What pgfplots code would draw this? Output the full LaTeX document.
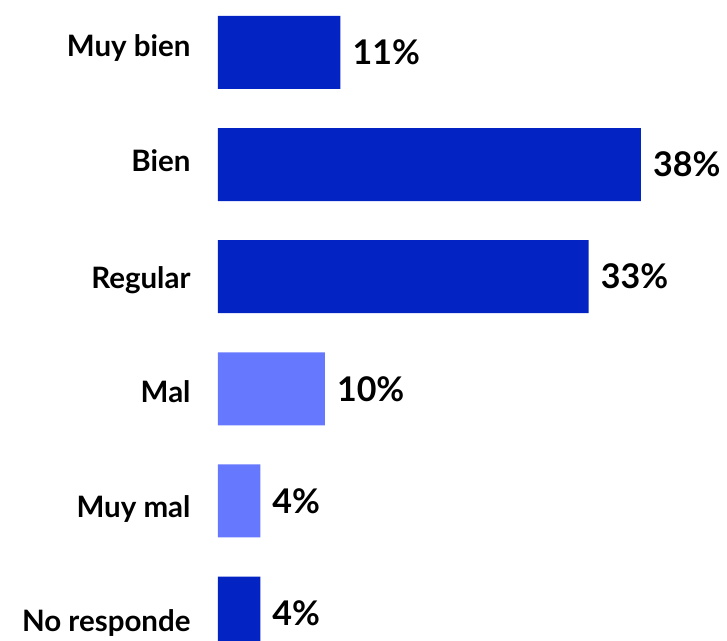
\documentclass[border=0pt]{standalone}
\usepackage{fontspec}
\setmainfont{Lato}
\usepackage{pgfplots}
\pgfplotsset{compat=1.18}
\definecolor{darkbar}{HTML}{0323C3}
\definecolor{lightbar}{HTML}{6678FE}
\begin{document}
\begin{tikzpicture}
\begin{axis}[
  anchor=origin, at={(0pt,0pt)},
  x=11.13pt, y=112.1pt,
  xmin=0, xmax=40, ymin=-0.5, ymax=5.5,
  xbar, bar width=73pt, bar shift=0pt,
  axis line style={draw=none},
  tick style={draw=none},
  xtick=\empty,
  ytick={-0.169,0.856,1.882,2.899,3.934,4.960},
  yticklabels={No responde, Muy mal, Mal, Regular, Bien, Muy bien},
  yticklabel style={font=\fontsize{29.5}{34}\selectfont\bfseries, anchor=base east, inner sep=0pt, xshift=-23pt},
  nodes near coords, point meta=explicit symbolic,
  nodes near coords style={font=\fontsize{34}{38}\selectfont\bfseries, anchor=west, inner sep=0pt, xshift=12pt, text=black},
  clip=false,
]
\addplot[fill=darkbar, draw=none] coordinates {(11,5) [11\%] (38,4) [38\%] (33.3,3) [33\%] (3.8,0) [4\%]};
\addplot[fill=lightbar, draw=none] coordinates {(9.6,2) [10\%] (3.8,1) [4\%]};
\end{axis}
\pgfresetboundingbox
\path[use as bounding box] (-218pt,-27pt) rectangle (509pt,613pt);
\end{tikzpicture}
\end{document}
